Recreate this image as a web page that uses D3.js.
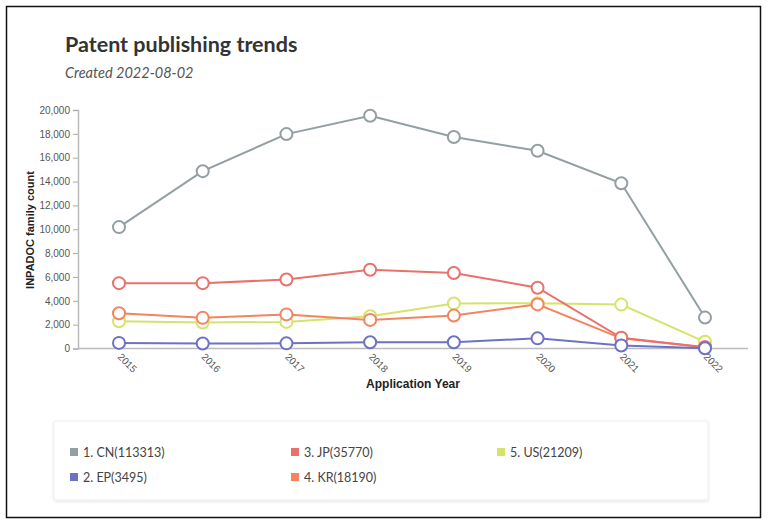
<!DOCTYPE html>
<html>
<head>
<meta charset="utf-8">
<script src="https://cdn.jsdelivr.net/npm/d3@7"></script>
<style>
  body { margin: 0; background: #fff; }
  svg { display: block; }
</style>
</head>
<body>
<div id="chart"></div>
<script>
// data
var years = [2015, 2016, 2017, 2018, 2019, 2020, 2021, 2022];
var seriesNames = ["1. CN(113313)", "2. EP(3495)", "3. JP(35770)", "4. KR(18190)", "5. US(21209)"];
var cnValues = [10180, 14870, 17980, 19520, 17730, 16580, 13860, 2593];
var epValues = [470, 420, 430, 520, 530, 850, 250, 25];
var jpValues = [5480, 5480, 5780, 6600, 6330, 5100, 900, 100];
var krValues = [2950, 2570, 2860, 2400, 2760, 3700, 850, 100];
var usValues = [2280, 2180, 2230, 2700, 3780, 3800, 3680, 560];
var seriesColors = ["#939fa3", "#6c72c4", "#e8716c", "#f3845f", "#d6e36a"];
var yTicks = [0, 2000, 4000, 6000, 8000, 10000, 12000, 14000, 16000, 18000, 20000];

var allValues = [cnValues, epValues, jpValues, krValues, usValues];
var series = seriesNames.map(function (n, i) {
  return { name: n, color: seriesColors[i], values: allValues[i] };
});

var width = 768, height = 525;
var svg = d3.select("#chart").append("svg")
  .attr("width", width)
  .attr("height", height);

// outer frame
svg.append("rect")
  .attr("x", 6.5).attr("y", 6.5)
  .attr("width", 754).attr("height", 511)
  .attr("fill", "#fff")
  .attr("stroke", "#111")
  .attr("stroke-width", 1.5);

// title
svg.append("text")
  .attr("x", 65).attr("y", 52)
  .attr("font-family", "Lato, 'Noto Sans', sans-serif")
  .attr("font-weight", "bold")
  .attr("font-size", "21.5px")
  .attr("fill", "#333")
  .text("Patent publishing trends");

svg.append("text")
  .attr("x", 65).attr("y", 78)
  .attr("font-family", "Lato, 'Noto Sans', sans-serif")
  .attr("font-style", "italic")
  .attr("font-size", "14.5px")
  .attr("fill", "#555")
  .text("Created 2022-08-02");

// scales
var x = d3.scalePoint()
  .domain(years)
  .range([119, 705]);

var y = d3.scaleLinear()
  .domain([0, 20000])
  .range([348.5, 110]);

var plot = svg.append("g");

// y axis
var yAxis = plot.append("g")
  .attr("transform", "translate(78,0)")
  .call(d3.axisLeft(y).tickValues(yTicks).tickSize(5).tickPadding(3).tickFormat(d3.format(",")));

yAxis.select(".domain").attr("stroke", "#bbb").attr("stroke-width", 1.5);
yAxis.selectAll(".tick line").attr("stroke", "#aaa");
yAxis.selectAll("text")
  .attr("font-family", "Arial, 'Liberation Sans', sans-serif")
  .attr("font-size", "10px")
  .attr("fill", "#555");

// x axis
var xAxisG = plot.append("g")
  .attr("transform", "translate(0,348.5)");

xAxisG.append("line")
  .attr("x1", 78).attr("x2", 748)
  .attr("stroke", "#bbb")
  .attr("stroke-width", 1.5);

xAxisG.selectAll(".xlab")
  .data(years)
  .enter().append("text")
  .attr("class", "xlab")
  .attr("transform", function (d) { return "translate(" + (x(d) - 2) + ",9) rotate(45)"; })
  .attr("font-family", "Arial, 'Liberation Sans', sans-serif")
  .attr("font-size", "10px")
  .attr("fill", "#555")
  .text(function (d) { return d; });

// axis titles
svg.append("text")
  .attr("transform", "translate(34,230) rotate(-90)")
  .attr("text-anchor", "middle")
  .attr("font-family", "Arial, 'Liberation Sans', sans-serif")
  .attr("font-weight", "bold")
  .attr("font-size", "11px")
  .attr("fill", "#222")
  .text("INPADOC family count");

svg.append("text")
  .attr("x", 413).attr("y", 388)
  .attr("text-anchor", "middle")
  .attr("font-family", "Arial, 'Liberation Sans', sans-serif")
  .attr("font-weight", "bold")
  .attr("font-size", "12px")
  .attr("fill", "#222")
  .text("Application Year");

// lines, drawn so that US sits underneath and EP on top
var drawOrder = [4, 3, 2, 0, 1];
var line = d3.line()
  .x(function (d, i) { return x(years[i]); })
  .y(function (d) { return y(d); });

drawOrder.forEach(function (k) {
  var s = series[k];
  var g = plot.append("g");
  g.append("path")
    .datum(s.values)
    .attr("d", line)
    .attr("fill", "none")
    .attr("stroke", s.color)
    .attr("stroke-width", 2);
  g.selectAll("circle")
    .data(s.values)
    .enter().append("circle")
    .attr("cx", function (d, i) { return x(years[i]); })
    .attr("cy", function (d) { return y(d); })
    .attr("r", 6)
    .attr("fill", "#fff")
    .attr("stroke", s.color)
    .attr("stroke-width", 2);
});

// legend
var defs = svg.append("defs");
var shadow = defs.append("filter").attr("id", "shadow")
  .attr("x", "-5%").attr("y", "-20%").attr("width", "110%").attr("height", "140%");
shadow.append("feDropShadow")
  .attr("dx", 0).attr("dy", 1).attr("stdDeviation", 1.5)
  .attr("flood-color", "#000").attr("flood-opacity", 0.12);

svg.append("rect")
  .attr("x", 54).attr("y", 421)
  .attr("width", 654).attr("height", 79)
  .attr("rx", 2)
  .attr("fill", "#fff")
  .attr("stroke", "#eee")
  .attr("filter", "url(#shadow)");

var legendCols = [70, 291, 497];
var legendRows = [452, 477];
// items fill column by column, two per column
var legend = svg.selectAll(".legend")
  .data(series)
  .enter().append("g")
  .attr("class", "legend")
  .attr("transform", function (d, i) {
    return "translate(" + legendCols[Math.floor(i / 2)] + "," + legendRows[i % 2] + ")";
  });

legend.append("rect")
  .attr("x", 0).attr("y", -4)
  .attr("width", 8).attr("height", 8)
  .attr("fill", function (d) { return d.color; });

legend.append("text")
  .attr("x", 13).attr("y", 4.5)
  .attr("font-family", "Lato, 'Noto Sans', sans-serif")
  .attr("font-size", "12.5px")
  .attr("fill", "#444")
  .text(function (d) { return d.name; });
</script>
</body>
</html>
